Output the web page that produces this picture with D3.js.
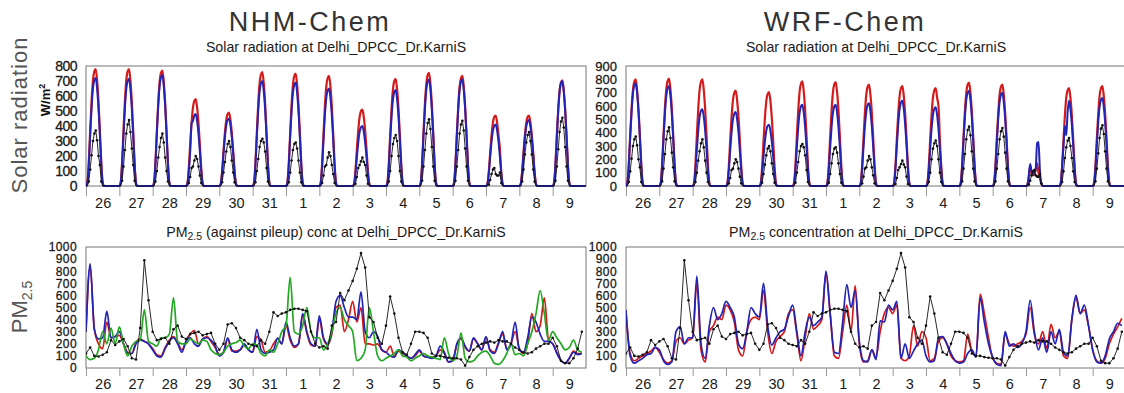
<!DOCTYPE html>
<html>
<head>
<meta charset="utf-8">
<script src="https://cdn.jsdelivr.net/npm/d3@7"></script>
<style>
  body { margin: 0; background: #fff; }
  svg { display: block; font-family: "Liberation Sans", Arial, sans-serif; }
</style>
</head>
<body>
<div id="chart"></div>
<script>

// day labels (Oct 26 .. Nov 9)
const days = ['26', '27', '28', '29', '30', '31', '1', '2', '3', '4', '5', '6', '7', '8', '9'];

// solar radiation, daytime hours 01..12 UTC per day (W/m2), night is 0
const solarObs = [
  [0, 30, 110, 205, 300, 350, 370, 305, 200, 140, 30, 0],
  [0, 35, 130, 240, 350, 410, 440, 360, 250, 140, 35, 0],
  [0, 30, 100, 190, 260, 320, 350, 290, 190, 100, 30, 0],
  [0, 20, 60, 120, 130, 170, 200, 180, 130, 70, 20, 0],
  [0, 25, 90, 160, 230, 280, 300, 260, 170, 90, 25, 0],
  [0, 25, 100, 180, 260, 300, 315, 290, 230, 120, 30, 0],
  [0, 25, 90, 170, 240, 280, 290, 250, 170, 90, 25, 0],
  [0, 20, 70, 130, 140, 190, 225, 200, 140, 80, 20, 0],
  [0, 15, 60, 120, 140, 165, 190, 160, 140, 70, 15, 0],
  [0, 30, 100, 200, 280, 320, 340, 300, 200, 100, 30, 0],
  [0, 35, 130, 240, 350, 420, 445, 380, 260, 130, 35, 0],
  [0, 35, 130, 240, 350, 410, 435, 370, 250, 130, 35, 0],
  [0, 10, 40, 80, 110, 120, 80, 70, 70, 90, 20, 0],
  [0, 30, 110, 210, 290, 340, 360, 300, 210, 110, 30, 0],
  [0, 35, 130, 245, 360, 430, 455, 390, 260, 130, 35, 0]
];

const nhmSolarRed = [
  [23, 156, 367, 562, 702, 764, 780, 702, 562, 367, 156, 23],
  [25, 160, 370, 565, 705, 765, 780, 700, 560, 365, 150, 20],
  [23, 154, 362, 554, 693, 755, 770, 693, 554, 362, 154, 23],
  [17, 116, 273, 418, 522, 568, 580, 522, 418, 273, 116, 17],
  [15, 98, 230, 353, 441, 480, 490, 441, 353, 230, 98, 15],
  [23, 152, 357, 547, 684, 745, 760, 684, 547, 357, 152, 23],
  [23, 150, 353, 540, 675, 735, 750, 675, 540, 353, 150, 23],
  [22, 147, 345, 529, 662, 720, 735, 662, 529, 345, 147, 22],
  [15, 102, 240, 367, 459, 500, 510, 459, 367, 240, 102, 15],
  [21, 143, 336, 515, 644, 701, 715, 644, 515, 336, 143, 21],
  [23, 151, 355, 544, 680, 740, 755, 680, 544, 355, 151, 23],
  [22, 147, 345, 529, 662, 720, 735, 662, 529, 345, 147, 22],
  [14, 94, 221, 338, 423, 461, 470, 423, 338, 250, 94, 14],
  [14, 94, 221, 338, 423, 461, 470, 423, 338, 221, 94, 14],
  [21, 141, 331, 508, 635, 691, 705, 635, 508, 331, 141, 21]
];

const nhmSolarBlue = [
  [22, 144, 338, 518, 648, 706, 720, 648, 518, 338, 144, 22],
  [21, 143, 336, 515, 644, 701, 715, 644, 515, 336, 143, 21],
  [22, 148, 348, 533, 666, 725, 740, 666, 533, 348, 148, 22],
  [14, 96, 226, 420, 432, 470, 480, 432, 346, 226, 96, 14],
  [14, 90, 212, 324, 405, 441, 450, 405, 324, 212, 90, 14],
  [21, 140, 329, 504, 630, 686, 700, 630, 504, 329, 140, 21],
  [21, 138, 324, 497, 621, 676, 690, 621, 497, 324, 138, 21],
  [20, 130, 306, 468, 585, 637, 650, 585, 468, 306, 130, 20],
  [12, 80, 188, 288, 360, 392, 400, 360, 288, 188, 80, 12],
  [19, 128, 301, 461, 576, 627, 640, 576, 461, 301, 128, 19],
  [21, 142, 334, 511, 639, 696, 710, 639, 511, 334, 142, 21],
  [21, 142, 334, 511, 639, 696, 710, 639, 511, 334, 142, 21],
  [12, 82, 193, 295, 369, 402, 410, 369, 295, 193, 82, 12],
  [13, 88, 207, 317, 396, 431, 440, 396, 317, 207, 88, 13],
  [21, 140, 329, 504, 630, 686, 700, 630, 504, 329, 140, 21]
];

const wrfSolarRed = [
  [24, 160, 376, 576, 720, 784, 800, 720, 576, 376, 160, 24],
  [24, 161, 378, 580, 725, 789, 805, 725, 580, 378, 161, 24],
  [24, 160, 376, 576, 720, 784, 800, 720, 576, 376, 160, 24],
  [21, 143, 336, 515, 644, 701, 715, 644, 515, 336, 143, 21],
  [21, 141, 331, 508, 635, 691, 705, 635, 508, 331, 141, 21],
  [24, 157, 369, 565, 707, 769, 785, 707, 565, 369, 157, 24],
  [23, 156, 367, 562, 702, 764, 780, 702, 562, 367, 156, 23],
  [23, 152, 357, 547, 684, 745, 760, 684, 547, 357, 152, 23],
  [23, 150, 353, 540, 675, 735, 750, 675, 540, 353, 150, 23],
  [22, 147, 345, 529, 662, 720, 735, 662, 600, 345, 147, 22],
  [23, 155, 364, 558, 698, 760, 775, 698, 558, 364, 155, 23],
  [23, 152, 357, 547, 684, 745, 760, 684, 547, 357, 152, 23],
  [10, 60, 150, 100, 80, 90, 120, 170, 100, 60, 20, 0],
  [22, 147, 345, 529, 662, 720, 735, 662, 529, 345, 147, 22],
  [23, 150, 353, 540, 675, 735, 750, 675, 540, 353, 150, 23]
];

const wrfSolarBlue = [
  [23, 154, 362, 554, 693, 755, 770, 693, 554, 362, 154, 23],
  [23, 150, 353, 540, 675, 735, 750, 675, 540, 353, 150, 23],
  [17, 115, 270, 414, 518, 564, 575, 518, 414, 270, 115, 17],
  [17, 111, 261, 400, 500, 544, 555, 500, 400, 261, 111, 17],
  [14, 92, 216, 331, 414, 451, 460, 414, 331, 216, 92, 14],
  [18, 122, 287, 439, 549, 598, 610, 549, 439, 287, 122, 18],
  [18, 122, 287, 439, 549, 598, 610, 549, 439, 287, 122, 18],
  [19, 124, 291, 446, 558, 608, 620, 558, 446, 291, 124, 19],
  [19, 128, 301, 461, 576, 627, 640, 576, 461, 301, 128, 19],
  [18, 118, 277, 425, 531, 578, 590, 531, 425, 277, 118, 18],
  [21, 143, 336, 515, 644, 701, 715, 644, 515, 336, 143, 21],
  [21, 140, 329, 504, 630, 686, 700, 630, 504, 329, 140, 21],
  [10, 80, 165, 110, 90, 100, 130, 320, 330, 120, 20, 0],
  [19, 150, 300, 450, 380, 560, 640, 576, 461, 301, 128, 19],
  [20, 132, 310, 475, 594, 647, 660, 594, 475, 310, 132, 20]
];

// PM2.5, 3-hourly (00,03,..,21 UTC) per day (ug/m3)
const pmObs = [
  [120, 170, 100, 95, 110, 130, 230, 190],
  [220, 240, 180, 80, 70, 330, 890, 560],
  [300, 230, 240, 250, 200, 320, 350, 260],
  [240, 280, 290, 300, 270, 280, 290, 200],
  [150, 200, 360, 370, 330, 250, 230, 200],
  [190, 180, 230, 200, 300, 460, 430, 450],
  [460, 480, 490, 490, 480, 470, 300, 200],
  [170, 180, 160, 350, 380, 620, 560, 640],
  [720, 820, 950, 830, 420, 380, 250, 200],
  [350, 590, 450, 250, 130, 110, 200, 300],
  [300, 290, 250, 120, 100, 100, 90, 85],
  [80, 80, 70, 20, 90, 150, 180, 200],
  [210, 220, 210, 230, 220, 220, 200, 170],
  [150, 130, 120, 130, 160, 180, 200, 200],
  [250, 180, 60, 40, 40, 80, 160, 300]
];

const nhmPmRed = [
  [300, 840, 320, 200, 160, 380, 250, 260],
  [270, 200, 130, 120, 210, 240, 220, 200],
  [160, 110, 100, 170, 230, 260, 210, 150],
  [220, 280, 310, 200, 240, 260, 220, 170],
  [110, 130, 240, 140, 140, 150, 190, 150],
  [130, 260, 230, 130, 140, 200, 240, 200],
  [350, 230, 170, 200, 440, 290, 190, 180],
  [400, 240, 190, 280, 500, 520, 300, 400],
  [550, 380, 500, 200, 200, 190, 200, 150],
  [130, 180, 100, 140, 120, 100, 80, 100],
  [140, 100, 90, 90, 100, 150, 120, 50],
  [60, 190, 240, 170, 140, 240, 200, 150],
  [250, 150, 130, 210, 280, 160, 200, 300],
  [160, 120, 200, 450, 300, 350, 580, 230],
  [200, 130, 60, 40, 80, 140, 120, 120]
];

const nhmPmBlue = [
  [300, 860, 320, 240, 250, 470, 250, 260],
  [300, 200, 120, 120, 200, 230, 220, 200],
  [150, 100, 90, 160, 220, 250, 200, 130],
  [220, 250, 200, 180, 240, 250, 230, 180],
  [100, 130, 250, 150, 130, 150, 200, 150],
  [130, 320, 150, 120, 130, 150, 250, 200],
  [380, 250, 180, 200, 450, 300, 200, 180],
  [430, 250, 200, 300, 550, 600, 500, 420],
  [420, 400, 630, 300, 250, 300, 260, 150],
  [130, 100, 90, 150, 130, 100, 80, 110],
  [150, 100, 90, 80, 100, 180, 130, 50],
  [60, 200, 250, 180, 140, 250, 200, 150],
  [260, 140, 120, 200, 300, 150, 200, 380],
  [150, 130, 250, 420, 380, 280, 220, 220],
  [200, 120, 60, 40, 80, 130, 110, 120]
];

const nhmPmGreen = [
  [100, 70, 80, 150, 300, 200, 330, 200],
  [340, 200, 100, 180, 220, 230, 480, 220],
  [200, 180, 250, 250, 280, 580, 220, 200],
  [200, 240, 220, 200, 230, 220, 150, 120],
  [110, 130, 180, 200, 210, 230, 180, 160],
  [200, 190, 120, 100, 150, 130, 200, 300],
  [350, 750, 300, 280, 350, 500, 300, 250],
  [250, 150, 200, 300, 450, 500, 400, 350],
  [300, 60, 80, 150, 500, 300, 100, 60],
  [80, 100, 120, 150, 100, 90, 60, 80],
  [100, 120, 100, 90, 80, 70, 250, 120],
  [60, 100, 290, 80, 50, 60, 100, 130],
  [140, 100, 40, 30, 60, 120, 200, 110],
  [120, 100, 200, 300, 450, 640, 450, 230],
  [300, 250, 200, 150, 170, 230, 150, 130]
];

const wrfPmRed = [
  [450, 120, 60, 80, 100, 120, 140, 170],
  [130, 70, 40, 60, 220, 250, 200, 230],
  [250, 700, 150, 50, 300, 350, 420, 400],
  [520, 480, 380, 150, 100, 300, 400, 420],
  [400, 640, 300, 120, 220, 260, 300, 450],
  [480, 280, 60, 250, 450, 320, 350, 400],
  [780, 450, 100, 80, 300, 520, 300, 680],
  [200, 50, 60, 150, 90, 300, 450, 500],
  [450, 520, 80, 60, 100, 350, 180, 300],
  [250, 60, 80, 220, 250, 200, 100, 60],
  [50, 60, 280, 140, 100, 610, 450, 250],
  [80, 40, 30, 280, 200, 180, 200, 220],
  [280, 500, 280, 200, 300, 160, 360, 250],
  [300, 100, 80, 400, 580, 450, 480, 350],
  [150, 60, 40, 80, 200, 280, 340, 410]
];

const wrfPmBlue = [
  [480, 100, 40, 60, 80, 110, 120, 170],
  [150, 60, 30, 50, 300, 340, 200, 250],
  [250, 760, 200, 80, 350, 500, 400, 450],
  [550, 500, 420, 200, 160, 300, 500, 450],
  [420, 700, 350, 190, 250, 300, 320, 430],
  [520, 300, 100, 300, 420, 350, 380, 420],
  [800, 450, 130, 120, 380, 690, 500, 640],
  [220, 60, 50, 150, 70, 390, 380, 520],
  [480, 550, 80, 200, 80, 140, 200, 230],
  [100, 50, 60, 250, 260, 200, 120, 60],
  [40, 50, 120, 150, 90, 580, 380, 200],
  [90, 30, 20, 300, 180, 200, 170, 200],
  [300, 560, 300, 150, 250, 130, 300, 200],
  [320, 130, 100, 400, 600, 450, 520, 350],
  [150, 50, 40, 100, 240, 300, 370, 350]
];

const RED = '#d41a1a', BLUE = '#2323b4', GREEN = '#22a822', BLACK = '#111';

// daytime values -> hourly points, zero at night
function solarPoints(daily) {
  const pts = [];
  daily.forEach((vals, d) => {
    for (let h = 0; h < 24; h++) {
      pts.push({ t: d + h / 24, v: (h >= 1 && h <= 12) ? vals[h - 1] : 0 });
    }
  });
  pts.push({ t: days.length, v: 0 });
  return pts;
}

function pmPoints(daily) {
  const pts = [];
  daily.forEach((vals, d) => {
    vals.forEach((v, k) => pts.push({ t: d + k / vals.length, v }));
  });
  return pts;
}

const width = 1124, height = 393;

const svg = d3.select('#chart').append('svg')
  .attr('width', width)
  .attr('height', height);

let clipId = 0;

function drawPanel(p) {
  const x = d3.scaleLinear().domain([0, days.length]).range([p.x0, p.x0 + p.w]);
  const y = d3.scaleLinear().domain([0, p.yMax]).range([p.y0 + p.h, p.y0]);

  const id = 'clip' + (clipId++);
  svg.append('clipPath').attr('id', id)
    .append('rect')
    .attr('x', p.x0).attr('y', p.y0 - 2)
    .attr('width', p.w).attr('height', p.h + 3);

  // frame
  svg.append('rect')
    .attr('x', p.x0).attr('y', p.y0)
    .attr('width', p.w).attr('height', p.h)
    .attr('fill', 'none')
    .attr('stroke', '#777')
    .attr('stroke-width', 1);

  // y axis labels
  const gy = svg.append('g')
    .attr('transform', `translate(${p.x0},0)`)
    .call(d3.axisLeft(y)
      .tickValues(d3.range(0, p.yMax + 1, 100))
      .tickFormat(d3.format('d'))
      .tickSize(0).tickPadding(9));
  gy.select('.domain').remove();
  gy.selectAll('text')
    .attr('font-size', p.yFont)
    .attr('font-family', '"Liberation Sans", Arial, sans-serif')
    .attr('fill', '#1a1a1a')
    .attr('letter-spacing', p.ySpacing)
    .attr('stroke', '#1a1a1a')
    .attr('stroke-width', 0.3);

  // x axis day ticks
  const gx = svg.append('g')
    .attr('transform', `translate(0,${p.y0 + p.h})`)
    .call(d3.axisBottom(x).tickValues(d3.range(0, days.length)).tickSize(p.tickLen).tickFormat(''));
  gx.select('.domain').remove();
  gx.selectAll('line').attr('stroke', '#999');

  const gl = svg.append('g')
    .attr('transform', `translate(0,${p.y0 + p.h})`)
    .call(d3.axisBottom(x)
      .tickValues(d3.range(0, days.length).map(d => d + 0.5))
      .tickSize(0).tickPadding(p.labelPad)
      .tickFormat((d, i) => days[i]));
  gl.select('.domain').remove();
  gl.selectAll('text')
    .attr('font-size', 14.5)
    .attr('font-family', '"Liberation Sans", Arial, sans-serif')
    .attr('fill', '#1a1a1a');

  const plot = svg.append('g').attr('clip-path', `url(#${id})`);

  p.series.forEach(s => {
    const line = d3.line()
      .x(d => x(d.t)).y(d => y(d.v))
      .curve(s.dots ? d3.curveLinear : d3.curveMonotoneX);
    plot.append('path')
      .datum(s.points)
      .attr('fill', 'none')
      .attr('stroke', s.color)
      .attr('stroke-width', s.width)
      .attr('stroke-linejoin', 'round')
      .attr('d', line);
    if (s.dots) {
      plot.selectAll(null)
        .data(s.points.filter(d => d.v > 0 || s.allDots))
        .enter().append('circle')
        .attr('cx', d => x(d.t))
        .attr('cy', d => y(d.v))
        .attr('r', 1.3)
        .attr('fill', s.color);
    }
  });

  // subtitle
  const st = svg.append('text')
    .attr('x', p.x0 + p.w / 2)
    .attr('y', p.titleY)
    .attr('text-anchor', 'middle')
    .attr('font-size', 14.2)
    .attr('fill', '#1a1a1a');
  p.title(st);
}

function plainTitle(txt) {
  return t => t.text(txt);
}

function pmTitle(rest) {
  return t => {
    t.append('tspan').text('PM');
    t.append('tspan').attr('font-size', 10.5).attr('dy', 3).text('2.5');
    t.append('tspan').attr('dy', -3).text(rest);
  };
}

const solarTop = { y0: 66, h: 120, tickLen: 10, labelPad: 12, titleY: 52, yFont: 14, ySpacing: -0.5 };
const pmBottom = { y0: 247, h: 121, tickLen: 8, labelPad: 11, titleY: 237, yFont: 12, ySpacing: 0.4 };

drawPanel(Object.assign({}, solarTop, {
  x0: 86, w: 500, yMax: 800,
  title: plainTitle('Solar radiation at Delhi_DPCC_Dr.KarniS'),
  series: [
    { points: solarPoints(nhmSolarRed), color: RED, width: 2.2 },
    { points: solarPoints(nhmSolarBlue), color: BLUE, width: 2 },
    { points: solarPoints(solarObs), color: BLACK, width: 0.9, dots: true }
  ]
}));

drawPanel(Object.assign({}, solarTop, {
  x0: 626, w: 500, yMax: 900, yFont: 13, ySpacing: 0,
  title: plainTitle('Solar radiation at Delhi_DPCC_Dr.KarniS'),
  series: [
    { points: solarPoints(wrfSolarRed), color: RED, width: 2.2 },
    { points: solarPoints(wrfSolarBlue), color: BLUE, width: 2 },
    { points: solarPoints(solarObs), color: BLACK, width: 0.9, dots: true }
  ]
}));

drawPanel(Object.assign({}, pmBottom, {
  x0: 86, w: 500, yMax: 1000,
  title: pmTitle(' (against pileup) conc at Delhi_DPCC_Dr.KarniS'),
  series: [
    { points: pmPoints(nhmPmRed), color: RED, width: 1.7 },
    { points: pmPoints(nhmPmBlue), color: BLUE, width: 1.7 },
    { points: pmPoints(nhmPmGreen), color: GREEN, width: 1.7 },
    { points: pmPoints(pmObs), color: BLACK, width: 0.9, dots: true, allDots: true }
  ]
}));

drawPanel(Object.assign({}, pmBottom, {
  x0: 626, w: 500, yMax: 1000,
  title: pmTitle(' concentration at Delhi_DPCC_Dr.KarniS'),
  series: [
    { points: pmPoints(wrfPmRed), color: RED, width: 1.7 },
    { points: pmPoints(wrfPmBlue), color: BLUE, width: 1.7 },
    { points: pmPoints(pmObs), color: BLACK, width: 0.9, dots: true, allDots: true }
  ]
}));

// model titles
svg.append('text')
  .attr('x', 310).attr('y', 31)
  .attr('text-anchor', 'middle')
  .attr('font-size', 27)
  .attr('letter-spacing', 2.5)
  .attr('fill', '#333')
  .text('NHM-Chem');

svg.append('text')
  .attr('x', 845).attr('y', 31)
  .attr('text-anchor', 'middle')
  .attr('font-size', 27)
  .attr('letter-spacing', 2.5)
  .attr('fill', '#333')
  .text('WRF-Chem');

// row labels
svg.append('text')
  .attr('transform', 'translate(27,115) rotate(-90)')
  .attr('text-anchor', 'middle')
  .attr('font-size', 22)
  .attr('letter-spacing', 1)
  .attr('fill', '#555')
  .text('Solar radiation');

const wm = svg.append('text')
  .attr('transform', 'translate(50,100) rotate(-90)')
  .attr('text-anchor', 'middle')
  .attr('font-size', 13)
  .attr('font-weight', 'bold')
  .attr('fill', '#111');
wm.append('tspan').text('W/m');
wm.append('tspan').attr('font-size', 9).attr('dy', -5).text('2');

const pm = svg.append('text')
  .attr('transform', 'translate(27,307) rotate(-90)')
  .attr('text-anchor', 'middle')
  .attr('font-size', 22)
  .attr('fill', '#555');
pm.append('tspan').text('PM');
pm.append('tspan').attr('font-size', 14).attr('dy', 5).text('2.5');

</script>
</body>
</html>
